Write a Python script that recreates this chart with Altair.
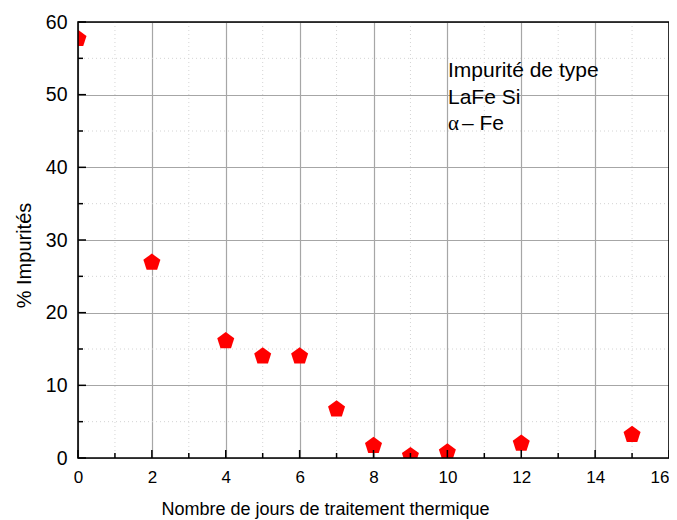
import altair as alt
import pandas as pd

# Data
days = [0, 2, 4, 5, 6, 7, 8, 9, 10, 12, 15]
impurity = [57.7, 26.9, 16.1, 14.0, 14.0, 6.7, 1.7, 0.3, 0.8, 2.0, 3.2]

x_major = [0, 2, 4, 6, 8, 10, 12, 14, 16]
x_minor = [1, 3, 5, 7, 9, 11, 13, 15]
y_major = [0, 10, 20, 30, 40, 50, 60]
y_minor = [5, 15, 25, 35, 45, 55]

note_lines = ["Impurité de type", "LaFe Si"]
note_alpha = "α"
note_fe = "– Fe"

W, H = 591, 436
FONT = "Liberation Sans"

xs = alt.Scale(domain=[0, 16], nice=False, zero=False)
ys = alt.Scale(domain=[0, 60], nice=False, zero=False)

xaxis = alt.Axis(
    values=x_major, title="Nombre de jours de traitement thermique",
    grid=True, gridColor="#a6a6a6", gridWidth=1.2, ticks=False, domain=False,
    labelFont=FONT, labelFontSize=17, labelColor="black", labelPadding=11,
    labelFlush=False, labelOverlap=False,
    labelAlign={"condition": {"test": "datum.value === 16", "value": "right"}, "value": "center"},
    titleFont=FONT, titleFontSize=18, titleFontWeight="normal", titleColor="black",
    titleX=247, titleY=56, titleBaseline="alphabetic", titleAlign="center")
yaxis = alt.Axis(
    values=y_major, title="% Impurités",
    grid=True, gridColor="#a6a6a6", gridWidth=1.2, ticks=False, domain=False,
    labelFont=FONT, labelFontSize=19.5, labelColor="black", labelPadding=11,
    labelFlush=False,
    titleFont=FONT, titleFontSize=20, titleFontWeight="normal", titleColor="black",
    titleAngle=-90, titleX=-48, titleY=233, titleBaseline="alphabetic", titleAlign="center")

df = pd.DataFrame({"d": days, "p": impurity})
dxmaj = pd.DataFrame({"d": x_major})
dxmin = pd.DataFrame({"d": x_minor})
dymaj = pd.DataFrame({"p": y_major})
dymin = pd.DataFrame({"p": y_minor})

X = lambda: alt.X("d:Q", scale=xs, axis=xaxis)
Y = lambda: alt.Y("p:Q", scale=ys, axis=yaxis)

# minor dotted grid
gx_minor = alt.Chart(dxmin).mark_rule(color="#d4d4d4", strokeDash=[1, 3], strokeWidth=1).encode(x=X())
gy_minor = alt.Chart(dymin).mark_rule(color="#d4d4d4", strokeDash=[1, 3], strokeWidth=1).encode(y=Y())

# inward ticks
tx_major = alt.Chart(dxmaj).mark_rule(color="black", strokeWidth=1.5).encode(
    x=X(), y=alt.value(H), y2=alt.value(H - 8))
tx_minor = alt.Chart(dxmin).mark_rule(color="black", strokeWidth=1.5).encode(
    x=X(), y=alt.value(H), y2=alt.value(H - 5))
ty_major = alt.Chart(dymaj).mark_rule(color="black", strokeWidth=1.5).encode(
    y=Y(), x=alt.value(0), x2=alt.value(8))
ty_minor = alt.Chart(dymin).mark_rule(color="black", strokeWidth=1.5).encode(
    y=Y(), x=alt.value(0), x2=alt.value(5))

pentagon = "M0,-1 L0.951,-0.309 L0.588,0.809 L-0.588,0.809 L-0.951,-0.309 Z"

points = alt.Chart(df).mark_point(
    shape=pentagon, filled=True, color="red", opacity=1, size=320, clip=True
).encode(x=X(), y=Y())

# plot frame drawn on top of the grid
frame = alt.Chart(pd.DataFrame({"k": [0]})).mark_rect(
    filled=False, stroke="black", strokeWidth=1.6
).encode(x=alt.value(0), x2=alt.value(W), y=alt.value(0), y2=alt.value(H))

texts = []
for i, line in enumerate(note_lines):
    texts.append(alt.Chart(pd.DataFrame({"t": [line]})).mark_text(
        font=FONT, fontSize=21, align="left", baseline="alphabetic", color="black"
    ).encode(text="t:N", x=alt.value(370), y=alt.value(55 + 26.5 * i)))
texts.append(alt.Chart(pd.DataFrame({"t": [note_alpha]})).mark_text(
    font="Liberation Serif", fontSize=21, align="left", baseline="alphabetic", color="black"
).encode(text="t:N", x=alt.value(370), y=alt.value(108)))
texts.append(alt.Chart(pd.DataFrame({"t": [note_fe]})).mark_text(
    font=FONT, fontSize=21, align="left", baseline="alphabetic", color="black"
).encode(text="t:N", x=alt.value(384), y=alt.value(108)))

chart = alt.layer(
    gx_minor, gy_minor, points, frame, tx_major, tx_minor, ty_major, ty_minor, *texts
).properties(
    width=W, height=H,
    autosize=alt.AutoSizeParams(type="none"),
    padding={"left": 70, "top": 14, "right": 0, "bottom": 62},
).configure(
    background="white",
    view=alt.ViewConfig(stroke=None),
)

chart.save("out.html", embed_options={"renderer": "svg", "actions": False})
